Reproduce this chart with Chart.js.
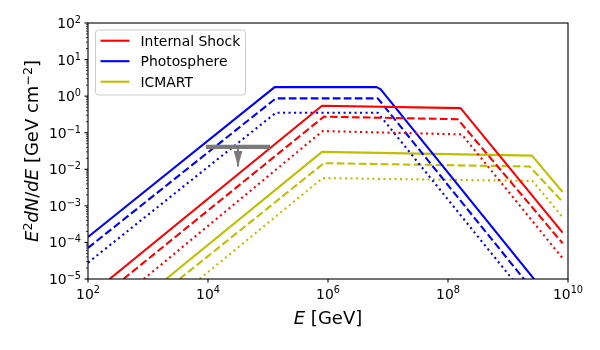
<!DOCTYPE html>
<html>
<head>
<meta charset="utf-8">
<script src="https://cdn.jsdelivr.net/npm/chart.js@4.4.0/dist/chart.umd.min.js"></script>
<style>
  body { margin: 0; background: #fff; }
  #wrap { width: 600px; height: 350px; }
</style>
</head>
<body>
<div id="wrap"><canvas id="sed-chart" width="600" height="350"></canvas></div>
<script>
// Corner points of each broken power law: E in GeV, E^2 dN/dE in GeV cm^-2
var shock_solid_e = [229, 7.94e5, 1.62e8, 8.13e9];
var shock_solid_y = [1e-5, 0.545, 0.471, 1.86e-4];
var shock_dashed_e = [389, 8.51e5, 1.45e8, 8.13e9];
var shock_dashed_y = [1e-5, 0.275, 0.234, 9.5e-5];
var shock_dotted_e = [851, 8.13e5, 1.7e8, 8.13e9];
var shock_dotted_y = [1e-5, 0.111, 0.09, 3.7e-5];

var photo_solid_e = [1e2, 1.29e5, 6.46e6, 7.5e6, 3.98e9];
var photo_solid_y = [1.41e-4, 1.76, 1.76, 1.55, 4.6e-6];
var photo_dashed_e = [1e2, 1.35e5, 6.76e6, 2.82e9];
var photo_dashed_y = [7.1e-5, 0.87, 0.87, 4.2e-6];
var photo_dotted_e = [1e2, 1.35e5, 6.76e6, 1.78e9];
var photo_dotted_y = [2.8e-5, 0.351, 0.351, 4.3e-6];

var icmart_solid_e = [2.0e3, 7.94e5, 2.51e9, 8.13e9];
var icmart_solid_y = [1e-5, 0.030, 0.0236, 2.4e-3];
var icmart_dashed_e = [3.35e3, 8.51e5, 2.29e9, 8.13e9];
var icmart_dashed_y = [1e-5, 0.0147, 0.0119, 1.29e-3];
var icmart_dotted_e = [7.24e3, 8.13e5, 2.57e9, 8.13e9];
var icmart_dotted_y = [1e-5, 5.75e-3, 4.8e-3, 4.9e-4];

// upper limit: energy range, flux level, arrow position and tip
var limit_e = [1e4, 1e5];
var limit_y = 0.041;
var limit_arrow_e = 3.16e4;
var limit_arrow_tip = 0.0119;

var legend_labels = ["Internal Shock", "Photosphere", "ICMART"];
var legend_colors = ["#ff0000", "#0000ff", "#bfbf00"];

// tick exponents
var x_tick_exps = [2, 4, 6, 8, 10];
var y_tick_exps = [-5, -4, -3, -2, -1, 0, 1, 2];

var DASHED = [7.7, 3.3];
var DOTTED = [2.1, 3.4];

function series(label, e, y, color, dash) {
  return {
    label: label,
    data: e.map(function (v, i) { return { x: v, y: y[i] }; }),
    borderColor: color,
    borderWidth: 2.1,
    borderDash: dash.slice(),
    borderJoinStyle: "round",
    pointRadius: 0,
    fill: false,
    tension: 0,
    clip: 0,
  };
}

// narrow arrow head drawn once, used as a point style
var head = document.createElement("canvas");
head.width = 10;
head.height = 32;
var hctx = head.getContext("2d");
hctx.fillStyle = "#7a7a7a";
hctx.beginPath();
hctx.moveTo(0.5, 0);
hctx.lineTo(9.5, 0);
hctx.lineTo(5, 16);
hctx.closePath();
hctx.fill();

var FONT = '"DejaVu Sans", sans-serif';

function drawRuns(ctx, runs, x, y, size, align) {
  // runs: [text, kind] where kind is n (normal), i (italic), s (superscript)
  var w = 0;
  var parts = runs.map(function (r) {
    var fs = r[1] == "s" ? size * 0.7 : size;
    var f = (r[1] == "i" ? "italic " : "") + fs + "px " + FONT;
    ctx.font = f;
    var pw = ctx.measureText(r[0]).width;
    w += pw;
    return { t: r[0], f: f, w: pw, up: r[1] == "s" };
  });
  var cx = align == "right" ? x - w : align == "center" ? x - w / 2 : x;
  parts.forEach(function (p) {
    ctx.font = p.f;
    ctx.fillText(p.t, cx, p.up ? y - size * 0.36 : y);
    cx += p.w;
  });
}

var axesPlugin = {
  id: "mplAxes",
  afterDraw: function (chart) {
    var ctx = chart.ctx;
    var a = chart.chartArea;
    var xs = chart.scales.x;
    var ys = chart.scales.y;
    ctx.save();
    ctx.fillStyle = "#000";
    ctx.strokeStyle = "#000";
    ctx.textAlign = "left";
    ctx.textBaseline = "alphabetic";

    // frame
    ctx.lineWidth = 1.1;
    ctx.strokeRect(a.left, a.top, a.right - a.left, a.bottom - a.top);

    // y ticks, major and minor
    y_tick_exps.forEach(function (k) {
      var py = ys.getPixelForValue(Math.pow(10, k));
      ctx.lineWidth = 1.1;
      ctx.beginPath();
      ctx.moveTo(a.left, py);
      ctx.lineTo(a.left - 3.5, py);
      ctx.stroke();
      drawRuns(ctx, [["10", "n"], [(k < 0 ? "\u2212" : "") + Math.abs(k), "s"]],
        a.left - 7, py + 5, 13.9, "right");
      if (k < 2) {
        ctx.lineWidth = 0.8;
        for (var m = 2; m < 10; m++) {
          var pm = ys.getPixelForValue(m * Math.pow(10, k));
          ctx.beginPath();
          ctx.moveTo(a.left, pm);
          ctx.lineTo(a.left - 2, pm);
          ctx.stroke();
        }
      }
    });

    // x ticks
    x_tick_exps.forEach(function (k) {
      var px = xs.getPixelForValue(Math.pow(10, k));
      ctx.lineWidth = 1.1;
      ctx.beginPath();
      ctx.moveTo(px, a.bottom);
      ctx.lineTo(px, a.bottom + 3.5);
      ctx.stroke();
      drawRuns(ctx, [["10", "n"], ["" + k, "s"]], px, a.bottom + 19.5, 13.9, "center");
    });

    // axis titles
    drawRuns(ctx, [["E", "i"], [" [GeV]", "n"]], (a.left + a.right) / 2, 323.5, 18, "center");
    ctx.save();
    ctx.translate(38, (a.top + a.bottom) / 2);
    ctx.rotate(-Math.PI / 2);
    drawRuns(ctx, [["E", "i"], ["2", "s"], ["dN", "i"], ["/", "n"], ["dE", "i"],
      [" [GeV cm", "n"], ["\u22122", "s"], ["]", "n"]], 0, 0, 18, "center");
    ctx.restore();

    // legend
    var lx = a.left + 7.5, ly = a.top + 7, lw = 150, lh = 65;
    ctx.beginPath();
    ctx.roundRect(lx, ly, lw, lh, 3);
    ctx.fillStyle = "rgba(255,255,255,0.8)";
    ctx.fill();
    ctx.strokeStyle = "#cccccc";
    ctx.lineWidth = 1;
    ctx.stroke();
    legend_labels.forEach(function (lab, i) {
      var yy = ly + 10.7 + i * 20.5;
      ctx.strokeStyle = legend_colors[i];
      ctx.lineWidth = 2.1;
      ctx.beginPath();
      ctx.moveTo(lx + 5, yy);
      ctx.lineTo(lx + 34, yy);
      ctx.stroke();
      ctx.fillStyle = "#000";
      ctx.font = "13.9px " + FONT;
      ctx.fillText(lab, lx + 45, yy + 5);
    });
    ctx.restore();
  },
};

var ctx = document.getElementById("sed-chart").getContext("2d");
var sed_chart = new Chart(ctx, {
  type: "line",
  data: {
    datasets: [
      {
        label: "limit",
        data: limit_e.map(function (v) { return { x: v, y: limit_y }; }),
        borderColor: "#7a7a7a",
        borderWidth: 4.2,
        borderCapStyle: "square",
        pointRadius: 0,
        clip: 0,
      },
      {
        label: "limit arrow",
        data: [{ x: limit_arrow_e, y: limit_y }, { x: limit_arrow_e, y: limit_arrow_tip }],
        borderColor: "#7a7a7a",
        borderWidth: 2,
        pointStyle: [false, head],
        pointRadius: 1,
        clip: 0,
      },
      series("Internal Shock", shock_solid_e, shock_solid_y, "#ff0000", []),
      series("Internal Shock", shock_dashed_e, shock_dashed_y, "#ff0000", DASHED),
      series("Internal Shock", shock_dotted_e, shock_dotted_y, "#ff0000", DOTTED),
      series("Photosphere", photo_solid_e, photo_solid_y, "#0000ff", []),
      series("Photosphere", photo_dashed_e, photo_dashed_y, "#0000ff", DASHED),
      series("Photosphere", photo_dotted_e, photo_dotted_y, "#0000ff", DOTTED),
      series("ICMART", icmart_solid_e, icmart_solid_y, "#bfbf00", []),
      series("ICMART", icmart_dashed_e, icmart_dashed_y, "#bfbf00", DASHED),
      series("ICMART", icmart_dotted_e, icmart_dotted_y, "#bfbf00", DOTTED),
    ],
  },
  options: {
    responsive: false,
    animation: false,
    events: [],
    layout: { padding: { left: 88, right: 32, top: 23, bottom: 71 } },
    plugins: { legend: { display: false }, tooltip: { enabled: false } },
    scales: {
      x: { type: "logarithmic", min: 1e2, max: 1e10, display: false },
      y: { type: "logarithmic", min: 1e-5, max: 1e2, display: false },
    },
  },
  plugins: [axesPlugin],
});
</script>
</body>
</html>
